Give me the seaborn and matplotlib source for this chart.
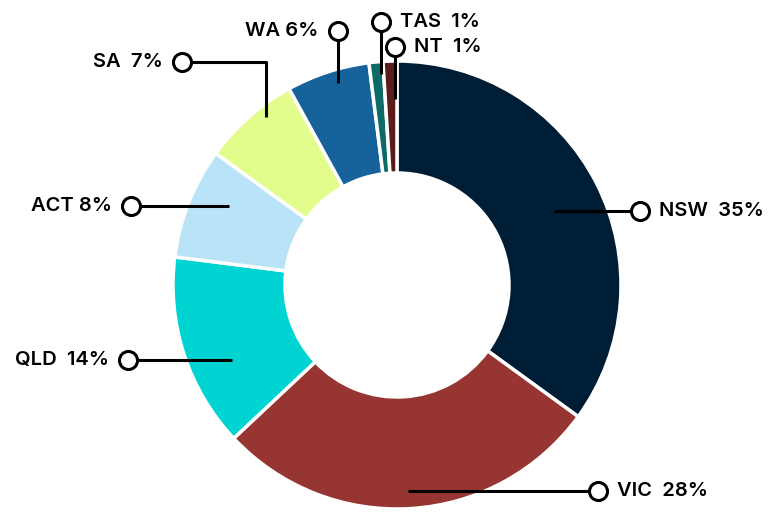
import numpy as np
import matplotlib.pyplot as plt
import seaborn as sns

# share of total by state / territory (%), clockwise from 12 o'clock
states = ["NSW", "VIC", "QLD", "ACT", "SA", "WA", "TAS", "NT"]
shares = [35, 28, 14, 8, 7, 6, 1, 1]
colours = ["#001d36", "#973532", "#00d4d2", "#b9e4f7",
           "#e3fd8c", "#16639c", "#0e6a66", "#5b1d1a"]

sns.set_theme(style="white")
plt.rcParams["font.family"] = ["Inter", "DejaVu Sans"]

W, H = 780, 520
R = 224          # outer radius in px
cx, cy = 397, 285  # centre in px


def px(x, y):
    # pixel position -> axis units (radius = 1)
    return (x - cx) / R, (cy - y) / R


fig = plt.figure(figsize=(W / 100, H / 100), dpi=100)
ax = fig.add_axes([0, 0, 1, 1])

wedges, _ = ax.pie(shares, colors=sns.color_palette(colours), startangle=90,
                   counterclock=False, radius=1,
                   wedgeprops=dict(width=0.5, edgecolor="white", linewidth=2.5))

# pie() resets the limits, so set them afterwards
ax.set_xlim(-cx / R, (W - cx) / R)
ax.set_ylim(-(H - cy) / R, cy / R)
ax.set_aspect("equal")
ax.axis("off")

# leader layout: angle tweak, anchor radius, path kind, target (px), text side
layout = {
    "NSW": (1.6, 0.774, "h", 640, "left"),
    "VIC": (0.5, 0.92, "h", 598, "left"),
    "QLD": (-6.4, 0.81, "h", 128, "right"),
    "ACT": (3.7, 0.83, "h", 131, "right"),
    "SA": (3.5, 0.95, "elbow", (62, 182), "right"),
    "WA": (1.6, 0.94, "v", 31, "right"),
    "TAS": (1.0, 0.945, "v", 22, "left"),
    "NT": (1.2, 0.83, "v", 47, "left"),
}

total = sum(shares)
cum = np.cumsum([0] + shares[:-1])
gap = 19 / R
for name, share, start in zip(states, shares, cum):
    shift, r, kind, target, side = layout[name]
    theta = np.deg2rad(360 * (start + share / 2) / total + shift)
    ax_, ay_ = r * np.sin(theta), r * np.cos(theta)
    if kind == "h":
        ex, ey = px(target, 0)[0], ay_
        xs, ys = [ax_, ex], [ay_, ey]
    elif kind == "v":
        ex, ey = ax_, px(0, target)[1]
        xs, ys = [ax_, ex], [ay_, ey]
    else:
        cy_, cx_ = target
        ex, ey = px(cx_, cy_)
        xs, ys = [ax_, ax_, ex], [ay_, ey, ey]
    ax.plot(xs, ys, color="black", lw=2.2, solid_capstyle="butt", zorder=3)
    ax.plot(ex, ey, "o", ms=13, mfc="white", mec="black", mew=2.2, zorder=4)
    tx = ex + gap if side == "left" else ex - gap
    sep = " " if name in ("ACT", "WA") else "  "
    ax.text(tx, ey, f"{name}{sep}{share}%", ha=side, va="center",
            fontsize=14.5, fontweight="semibold", color="black", zorder=5)

fig.savefig("out.png", dpi=100)
